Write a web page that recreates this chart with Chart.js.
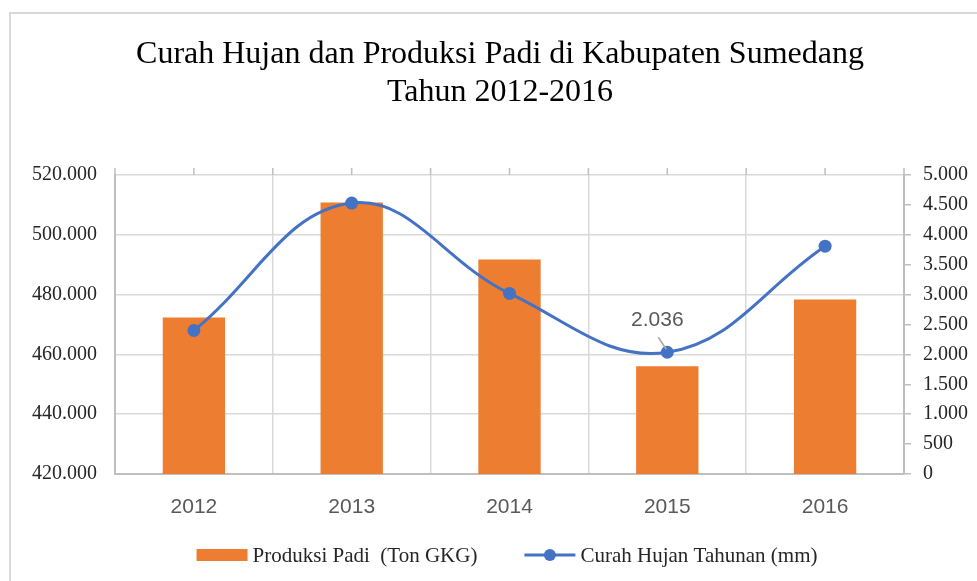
<!DOCTYPE html>
<html><head><meta charset="utf-8">
<script src="https://cdn.jsdelivr.net/npm/chart.js@4.4.0/dist/chart.umd.min.js"></script>
<style>html,body{margin:0;padding:0;background:#fff;overflow:hidden}canvas{display:block}</style>
</head><body>
<canvas id="c" width="977" height="581"></canvas>
<script>
const categories = ['2012', '2013', '2014', '2015', '2016'];
const produksiPadi = [472300, 510800, 491700, 456000, 478400];
const curahHujan = [2400, 4530, 3020, 2036, 3810];
const leftTicks = [420000, 440000, 460000, 480000, 500000, 520000];
const rightTicks = [0, 500, 1000, 1500, 2000, 2500, 3000, 3500, 4000, 4500, 5000];
const titleLines = ['Curah Hujan dan Produksi Padi di Kabupaten Sumedang', 'Tahun 2012-2016'];
const seriesNames = ['Produksi Padi  (Ton GKG)', 'Curah Hujan Tahunan (mm)'];
const labelledIndex = 3;

const BAR = '#ED7D31', LINE = '#4472C4';
const GRID = '#d9d9d9', AXIS = '#bfbfbf';
const SERIF = '"Liberation Serif", "Times New Roman", serif';
const SANS = '"Liberation Sans", Arial, sans-serif';

function fmt(v) {
  const s = Math.round(v).toString();
  return s.replace(/\B(?=(\d{3})+(?!\d))/g, '.');
}

const decor = {
  id: 'decor',
  beforeDraw(chart) {
    const ctx = chart.ctx;
    ctx.save();
    ctx.fillStyle = '#fff';
    ctx.fillRect(0, 0, chart.width, chart.height);
    ctx.strokeStyle = GRID;
    ctx.lineWidth = 2;
    ctx.strokeRect(10, 13, chart.width + 20, chart.height + 20);
    ctx.restore();
  },
  afterDatasetsDraw(chart) {
    const ctx = chart.ctx;
    const meta = chart.getDatasetMeta(1);
    const pt = meta.data[labelledIndex];
    if (!pt) return;
    ctx.save();
    ctx.strokeStyle = '#a6a6a6';
    ctx.lineWidth = 1.5;
    ctx.beginPath();
    ctx.moveTo(pt.x - 9, pt.y - 15);
    ctx.lineTo(pt.x - 1, pt.y - 3);
    ctx.stroke();
    ctx.font = '21px ' + SANS;
    ctx.fillStyle = '#595959';
    ctx.textAlign = 'center';
    ctx.textBaseline = 'middle';
    ctx.fillText(fmt(curahHujan[labelledIndex]), pt.x - 10, pt.y - 32);
    ctx.restore();
  },
  afterDraw(chart) {
    const ctx = chart.ctx;
    const area = chart.chartArea;
    const xs = chart.scales.x;
    ctx.save();
    ctx.strokeStyle = AXIS;
    ctx.lineWidth = 1.5;
    const half = (xs.getPixelForValue(1) - xs.getPixelForValue(0)) / 2;
    ctx.beginPath();
    categories.forEach((c, i) => {
      const px = xs.getPixelForValue(i);
      [px - half, px, px + half].forEach(p => {
        ctx.moveTo(p, area.top - 7);
        ctx.lineTo(p, area.top);
      });
    });
    ctx.stroke();
    ctx.fillStyle = '#000';
    ctx.font = '32px ' + SERIF;
    ctx.textAlign = 'center';
    ctx.textBaseline = 'alphabetic';
    ctx.fillText(titleLines[0], 500, 63);
    ctx.fillText(titleLines[1], 500, 101);
    ctx.font = '21px ' + SERIF;
    const w1 = ctx.measureText(seriesNames[0]).width;
    const w2 = ctx.measureText(seriesNames[1]).width;
    const sym = 51, gapT = 5, gapI = 47;
    const total = sym + gapT + w1 + gapI + sym + gapT + w2;
    let x = 507 - total / 2;
    const cy = 555;
    ctx.fillStyle = BAR;
    ctx.fillRect(x, cy - 6, sym, 12);
    ctx.fillStyle = '#262626';
    ctx.textAlign = 'left';
    ctx.fillText(seriesNames[0], x + sym + gapT, 562);
    x += sym + gapT + w1 + gapI;
    ctx.strokeStyle = LINE;
    ctx.lineWidth = 3;
    ctx.beginPath();
    ctx.moveTo(x, cy);
    ctx.lineTo(x + sym, cy);
    ctx.stroke();
    ctx.fillStyle = LINE;
    ctx.beginPath();
    ctx.arc(x + sym / 2, cy, 6, 0, Math.PI * 2);
    ctx.fill();
    ctx.fillStyle = '#262626';
    ctx.fillText(seriesNames[1], x + sym + gapT, 562);
    ctx.restore();
  }
};

new Chart(document.getElementById('c'), {
  type: 'bar',
  data: {
    labels: categories,
    datasets: [
      {
        type: 'bar',
        label: seriesNames[0],
        data: produksiPadi,
        backgroundColor: BAR,
        yAxisID: 'y',
        barPercentage: 0.395,
        categoryPercentage: 1,
        order: 1
      },
      {
        type: 'line',
        label: seriesNames[1],
        data: curahHujan,
        yAxisID: 'y1',
        borderColor: LINE,
        backgroundColor: LINE,
        borderWidth: 3,
        pointRadius: 6.5,
        pointBorderWidth: 0,
        pointBackgroundColor: LINE,
        tension: 0.4,
        order: 0
      }
    ]
  },
  options: {
    responsive: false,
    animation: false,
    devicePixelRatio: 1,
    layout: { padding: { top: 175, bottom: 47, left: 0, right: 0 } },
    plugins: { legend: { display: false }, title: { display: false }, tooltip: { enabled: false } },
    scales: {
      x: {
        type: 'category',
        offset: true,
        grid: { offset: true, color: GRID, lineWidth: 1.5, drawTicks: false },
        border: { color: AXIS, width: 2 },
        ticks: { font: { family: SANS, size: 21 }, color: '#595959', padding: 21 },
        afterFit: s => { s.height = 60; }
      },
      y: {
        position: 'left',
        min: 420000, max: 520000,
        afterBuildTicks: s => { s.ticks = leftTicks.map(v => ({ value: v })); },
        ticks: { callback: v => fmt(v), font: { family: SERIF, size: 20 }, color: '#262626', padding: 18 },
        grid: { color: GRID, lineWidth: 1.5, drawTicks: false },
        border: { color: AXIS, width: 2 },
        afterFit: s => { s.width = 115; }
      },
      y1: {
        position: 'right',
        min: 0, max: 5000,
        afterBuildTicks: s => { s.ticks = rightTicks.map(v => ({ value: v })); },
        ticks: { callback: v => fmt(v), font: { family: SERIF, size: 20 }, color: '#262626', padding: 12 },
        grid: { drawOnChartArea: false, drawTicks: true, tickLength: 7, color: AXIS, lineWidth: 1.5 },
        border: { color: AXIS, width: 2 },
        afterFit: s => { s.width = 73; }
      }
    }
  },
  plugins: [decor]
});
</script>
</body></html>
